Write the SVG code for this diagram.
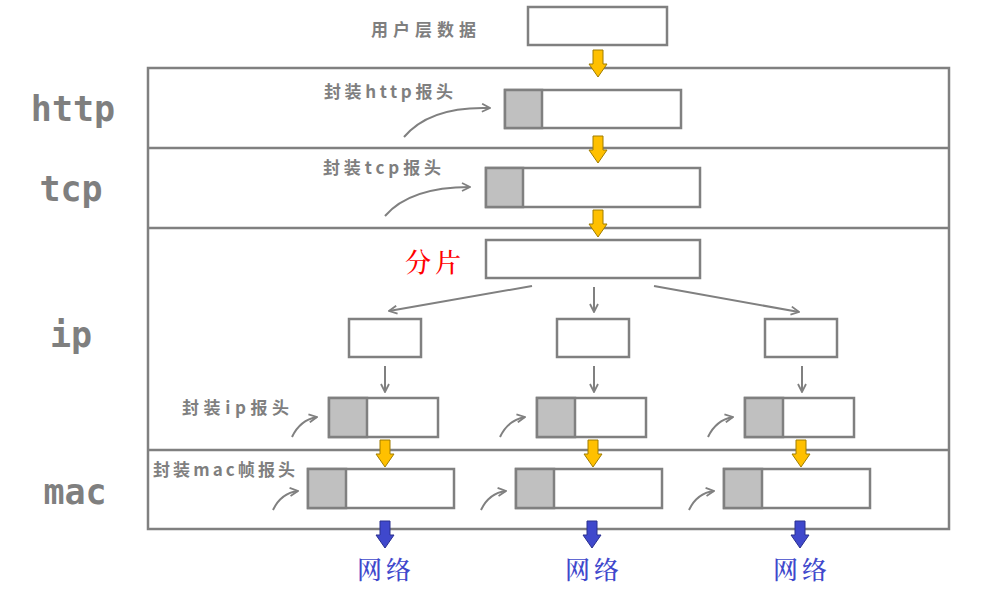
<svg xmlns="http://www.w3.org/2000/svg" width="1003" height="595" viewBox="0 0 1003 595">
<style>
.box{fill:#fff;stroke:#808080;stroke-width:2.5}
.hdr{fill:#c0c0c0;stroke:#808080;stroke-width:2.5}
.frame{fill:none;stroke:#808080;stroke-width:2.5}
.ln{fill:none;stroke:#808080;stroke-width:2}
.yel{fill:#ffc000;stroke:#a07d00;stroke-width:1}
.blu{fill:#3f48cc;stroke:#2a3090;stroke-width:1}
.layer{font-family:"DejaVu Sans Mono","Liberation Mono",monospace;font-weight:bold;font-size:35px;fill:#7f7f7f}
.lbl{font-family:"Noto Sans CJK SC","DejaVu Sans Mono",sans-serif;font-size:17px;font-weight:bold;fill:#7f7f7f}
.red{font-family:"Noto Serif CJK SC","Noto Sans CJK SC",serif;font-size:26px;font-weight:500;fill:#ff0000}
.net{font-family:"Noto Serif CJK SC","Noto Sans CJK SC",serif;font-size:25px;font-weight:500;fill:#3f48cc}
</style>
<defs>
<marker id="chev" viewBox="0 0 10 10" refX="9" refY="5" markerWidth="10" markerHeight="10" markerUnits="userSpaceOnUse" orient="auto">
<path d="M1,1 L9,5 L1,9" fill="none" stroke="#808080" stroke-width="1.8"/>
</marker>
<polygon id="blk" points="-5,0 5,0 5,14 9,14 0,27 -9,14 -5,14"/>
</defs>
<rect width="1003" height="595" fill="#fff"/>
<g id="layers">
<rect class="frame" x="148" y="68" width="801" height="461"/>
<line class="frame" x1="148" y1="148" x2="949" y2="148"/>
<line class="frame" x1="148" y1="228" x2="949" y2="228"/>
<line class="frame" x1="148" y1="450" x2="949" y2="450"/>
<text class="layer" x="73" y="121" text-anchor="middle">http</text>
<text class="layer" x="71" y="201" text-anchor="middle">tcp</text>
<text class="layer" x="71" y="347" text-anchor="middle">ip</text>
<text class="layer" x="75" y="504" text-anchor="middle">mac</text>
</g>
<g id="labels">
<text class="lbl" x="371" y="36" letter-spacing="5">用户层数据</text>
<text class="lbl" x="324" y="98" textLength="129">封装http报头</text>
<text class="lbl" x="323" y="174" textLength="118">封装tcp报头</text>
<text class="lbl" x="182" y="414" textLength="107">封装ip报头</text>
<text class="lbl" x="153" y="476" textLength="142">封装mac帧报头</text>
<text class="red" x="405" y="272" letter-spacing="4">分片</text>
<text class="net" x="357" y="579" letter-spacing="4">网络</text>
<text class="net" x="565" y="579" letter-spacing="4">网络</text>
<text class="net" x="773" y="579" letter-spacing="4">网络</text>
</g>
<g id="node-user"><rect class="box" x="528" y="7" width="139" height="38"/></g>
<g id="node-http"><rect class="box" x="505" y="90" width="176" height="38"/><rect class="hdr" x="505" y="90" width="37" height="38"/></g>
<g id="node-tcp"><rect class="box" x="486" y="168" width="214" height="39"/><rect class="hdr" x="486" y="168" width="37" height="39"/></g>
<g id="node-frag"><rect class="box" x="486" y="240" width="214" height="38"/></g>
<g id="node-f1"><rect class="box" x="349" y="319" width="72" height="38"/></g>
<g id="node-f2"><rect class="box" x="557" y="319" width="72" height="38"/></g>
<g id="node-f3"><rect class="box" x="765" y="319" width="72" height="38"/></g>
<g id="node-ip1"><rect class="box" x="329" y="398" width="109" height="39"/><rect class="hdr" x="329" y="398" width="38" height="39"/></g>
<g id="node-ip2"><rect class="box" x="537" y="398" width="109" height="39"/><rect class="hdr" x="537" y="398" width="38" height="39"/></g>
<g id="node-ip3"><rect class="box" x="745" y="398" width="109" height="39"/><rect class="hdr" x="745" y="398" width="38" height="39"/></g>
<g id="node-mac1"><rect class="box" x="308" y="469" width="146" height="39"/><rect class="hdr" x="308" y="469" width="38" height="39"/></g>
<g id="node-mac2"><rect class="box" x="516" y="469" width="146" height="39"/><rect class="hdr" x="516" y="469" width="38" height="39"/></g>
<g id="node-mac3"><rect class="box" x="724" y="469" width="146" height="39"/><rect class="hdr" x="724" y="469" width="38" height="39"/></g>
<g id="connectors">
<use href="#blk" class="yel" x="598" y="50"/>
<use href="#blk" class="yel" x="598" y="136"/>
<use href="#blk" class="yel" x="598" y="210"/>
<use href="#blk" class="yel" x="385" y="440"/>
<use href="#blk" class="yel" x="593" y="440"/>
<use href="#blk" class="yel" x="801" y="440"/>
<use href="#blk" class="blu" x="385" y="521"/>
<use href="#blk" class="blu" x="592" y="521"/>
<use href="#blk" class="blu" x="800" y="521"/>
<path class="ln" d="M404,137 Q430,106 490,108" marker-end="url(#chev)"/>
<path class="ln" d="M385,216 Q410,187 470,187" marker-end="url(#chev)"/>
<line class="ln" x1="532" y1="286" x2="389" y2="311" marker-end="url(#chev)"/>
<line class="ln" x1="594" y1="287" x2="594" y2="312" marker-end="url(#chev)"/>
<line class="ln" x1="654" y1="286" x2="799" y2="312" marker-end="url(#chev)"/>
<line class="ln" x1="385" y1="366" x2="385" y2="392" marker-end="url(#chev)"/>
<line class="ln" x1="594" y1="366" x2="594" y2="392" marker-end="url(#chev)"/>
<line class="ln" x1="802" y1="366" x2="802" y2="392" marker-end="url(#chev)"/>
<path class="ln" d="M292,437 Q300,420 317,417" marker-end="url(#chev)"/>
<path class="ln" d="M500,437 Q508,420 525,417" marker-end="url(#chev)"/>
<path class="ln" d="M708,437 Q716,420 733,417" marker-end="url(#chev)"/>
<path class="ln" d="M273,510 Q281,493 298,491" marker-end="url(#chev)"/>
<path class="ln" d="M481,510 Q489,493 506,491" marker-end="url(#chev)"/>
<path class="ln" d="M689,510 Q697,493 714,491" marker-end="url(#chev)"/>
</g>
</svg>
